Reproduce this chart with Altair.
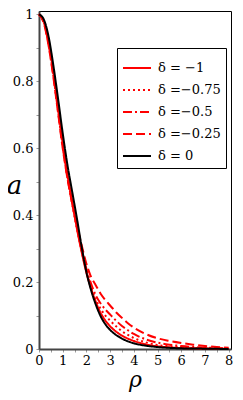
import altair as alt
import pandas as pd

rho = [0, 0.2, 0.4, 0.6, 0.8, 1.0, 1.2, 1.4, 1.6, 1.8, 2.0, 2.2, 2.4, 2.6, 2.8, 3.0,
       3.25, 3.5, 3.75, 4.0, 4.5, 5.0, 5.5, 6.0, 6.5, 7.0, 7.5, 8.0]

a_m100 = [1.0, 0.98, 0.92, 0.83, 0.725, 0.615, 0.52, 0.44, 0.36, 0.29, 0.228, 0.18, 0.14,
          0.108, 0.085, 0.068, 0.052, 0.04, 0.031, 0.024, 0.014, 0.008, 0.005, 0.003,
          0.002, 0.0015, 0.001, 0.0005]
a_m075 = [1.0, 0.978, 0.915, 0.825, 0.72, 0.61, 0.515, 0.435, 0.36, 0.292, 0.232, 0.185,
          0.148, 0.12, 0.1, 0.085, 0.068, 0.053, 0.042, 0.033, 0.02, 0.012, 0.008, 0.005,
          0.003, 0.002, 0.0015, 0.001]
a_m050 = [1.0, 0.977, 0.912, 0.82, 0.713, 0.605, 0.512, 0.435, 0.365, 0.298, 0.24, 0.195,
          0.16, 0.136, 0.118, 0.103, 0.085, 0.069, 0.056, 0.045, 0.029, 0.019, 0.013, 0.009,
          0.006, 0.004, 0.003, 0.002]
a_m025 = [1.0, 0.975, 0.908, 0.815, 0.708, 0.6, 0.51, 0.435, 0.37, 0.31, 0.255, 0.215,
          0.19, 0.165, 0.146, 0.13, 0.11, 0.093, 0.077, 0.064, 0.045, 0.032, 0.024, 0.018,
          0.013, 0.009, 0.006, 0.004]
a_0 = [1.0, 0.985, 0.935, 0.85, 0.75, 0.645, 0.55, 0.47, 0.39, 0.305, 0.23, 0.175, 0.132,
       0.098, 0.074, 0.057, 0.042, 0.031, 0.023, 0.017, 0.01, 0.006, 0.0035, 0.002,
       0.0015, 0.001, 0.0005, 0.0]

labels = ["δ = −1", "δ =−0.75", "δ =−0.5", "δ =−0.25", "δ = 0"]
series = [a_m100, a_m075, a_m050, a_m025, a_0]
colors = ["#ff0000", "#ff0000", "#ff0000", "#ff0000", "#000000"]
dashes = [[1, 0], [2, 3], [9, 3, 2, 3], [9, 4], [1, 0]]
widths = [2, 2, 2, 2, 3]

rows = []
for lab, vals in zip(labels, series):
    for r, v in zip(rho, vals):
        rows.append({"rho": r, "a": v, "delta": lab})
df = pd.DataFrame(rows)

x_ticks = [i * 0.5 for i in range(17)]
y_ticks = [i * 0.1 for i in range(11)]

font = "DejaVu Serif"

enc = dict(
    x=alt.X("rho:Q", scale=alt.Scale(domain=[0, 8.1], nice=False),
            axis=alt.Axis(title="ρ", values=x_ticks,
                          labelExpr="datum.value % 1 == 0 ? datum.value : ''",
                          grid=False, titleFontStyle="italic", titleFontSize=22,
                          titleFont=font, titleFontWeight="normal",
                          titleBaseline="alphabetic", titleY=37,
                          labelFont=font, labelFontSize=13, labelColor="#000",
                          labelPadding=2, tickSize=3, tickColor="#999",
                          domainColor="#444", domainWidth=2, labelFlush=False)),
    y=alt.Y("a:Q", scale=alt.Scale(domain=[0, 1.01], nice=False),
            axis=alt.Axis(title="a", values=y_ticks,
                          labelExpr="(round(datum.value*10) % 2 == 0) ? format(datum.value, '~g') : ''",
                          grid=False, titleFontStyle="italic", titleFontSize=26,
                          titleFont=font, titleFontWeight="normal", titleAngle=0,
                          titleX=-25, titleY=174, titleBaseline="middle",
                          labelFont=font, labelFontSize=13, labelColor="#000",
                          labelPadding=3, tickSize=3, tickColor="#999",
                          domainColor="#444", domainWidth=2, labelFlush=False)),
    color=alt.Color("delta:N", scale=alt.Scale(domain=labels, range=colors),
                    sort=labels,
                    legend=alt.Legend(title=None, orient="none", legendX=78, legendY=37,
                                      strokeColor="#000", padding=5,
                                      symbolType="stroke", symbolSize=784,
                                      symbolStrokeWidth=2.5, rowPadding=-8,
                                      labelFont=font, labelFontSize=13,
                                      labelColor="#000", labelOffset=6,
                                      fillColor="white")),
    strokeDash=alt.StrokeDash("delta:N", scale=alt.Scale(domain=labels, range=dashes),
                              sort=labels, legend=alt.Legend(title=None)),
    strokeWidth=alt.StrokeWidth("delta:N", scale=alt.Scale(domain=labels, range=widths),
                                legend=None),
)

red = alt.Chart(df).transform_filter(alt.datum.delta != "δ = 0").mark_line(
    interpolate="monotone").encode(**enc)
black = alt.Chart(df).transform_filter(alt.datum.delta == "δ = 0").mark_line(
    interpolate="monotone").encode(**enc)

chart = alt.layer(red, black).properties(
    width=192, height=338,
    autosize=alt.AutoSizeParams(type="none"),
    padding={"left": 31, "top": 3, "right": 4, "bottom": 43},
).configure(font=font).configure_axis(labelFont=font, titleFont=font).configure_legend(
    labelFont=font
).configure_view(stroke="#000", strokeWidth=1)

chart.save("out.html", embed_options={"renderer": "svg", "actions": False})
